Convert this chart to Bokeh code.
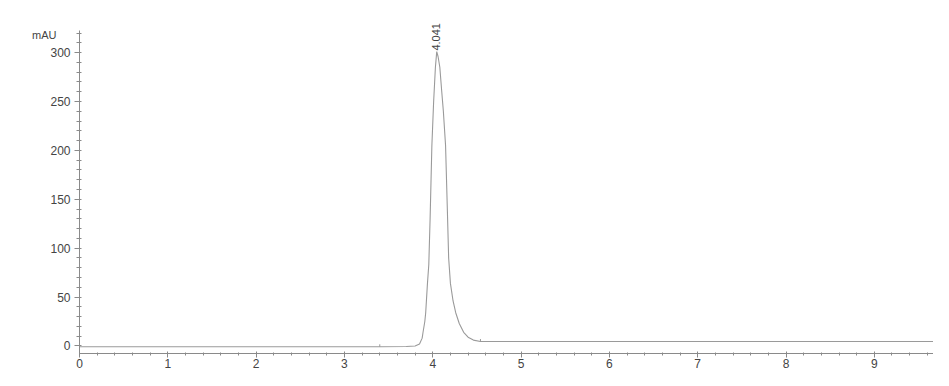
import math
from bokeh.plotting import figure
from bokeh.models import Range1d, SingleIntervalTicker, Label
from bokeh.embed import file_html
from bokeh.resources import INLINE

# ---- data ----
time_min = [0.0, 3.40, 3.70, 3.80, 3.85, 3.88, 3.89, 3.91, 3.92, 3.94, 3.955,
            3.97, 3.99, 4.01, 4.03, 4.045, 4.06, 4.08, 4.10, 4.12, 4.145,
            4.165, 4.18, 4.20, 4.23, 4.26, 4.30, 4.35, 4.40, 4.46, 4.54, 9.67]
absorb_mau = [-0.8, -0.8, -0.5, 0.0, 2, 8, 14, 25, 34, 64, 83,
              130, 205, 250, 285, 301, 296, 285, 262, 240, 205,
              140, 90, 64, 46, 34, 23, 14, 9, 6, 4.6, 4.6]
marker_times = [3.40, 4.54]
marker_levels = [-0.8, 4.6]
peak_rt = [4.041]
peak_height = [301]
peak_labels = ["4.041"]
y_unit = "mAU"

FONT = "Liberation Sans"
LINE = "#9a9a9a"
AX = "#8a8a8a"
TXT = "#444444"

Y_BOTTOM, Y_TOP, AXIS_TOP = -7.7, 332.8, 323

p = figure(width=933, height=370, output_backend="svg", toolbar_location=None,
           x_range=Range1d(0, 9.67), y_range=Range1d(Y_BOTTOM, Y_TOP),
           min_border_left=79, min_border_top=20, min_border_right=0,
           min_border_bottom=0)
p.outline_line_color = None
p.xgrid.grid_line_color = None
p.ygrid.grid_line_color = None
p.background_fill_color = "white"
p.border_fill_color = "white"

p.xaxis.ticker = SingleIntervalTicker(interval=1, num_minor_ticks=5)
p.yaxis.ticker = SingleIntervalTicker(interval=50, num_minor_ticks=5)
p.yaxis.bounds = (Y_BOTTOM, AXIS_TOP)
for ax in (p.xaxis, p.yaxis):
    ax.axis_line_color = AX
    ax.major_tick_line_color = AX
    ax.minor_tick_line_color = AX
    ax.major_label_text_font = FONT
    ax.major_label_text_font_size = "12px"
    ax.major_label_text_color = TXT
p.xaxis.major_tick_in = 2
p.xaxis.major_tick_out = 4
p.xaxis.minor_tick_in = 1
p.xaxis.minor_tick_out = 2
p.xaxis.major_label_standoff = 1
p.yaxis.major_tick_in = 0
p.yaxis.major_tick_out = 5
p.yaxis.minor_tick_in = 2
p.yaxis.minor_tick_out = 3
p.yaxis.major_label_standoff = 4

p.yaxis.axis_label = "\n\n" + y_unit
p.yaxis.axis_label_orientation = "horizontal"
p.yaxis.axis_label_align = "end"
p.yaxis.axis_label_standoff = -9
p.yaxis.axis_label_text_font = FONT
p.yaxis.axis_label_text_font_size = "11px"
p.yaxis.axis_label_text_font_style = "normal"
p.yaxis.axis_label_text_color = TXT

p.line(time_min, absorb_mau, line_color=LINE, line_width=1.1)

# integration markers
p.segment(x0=marker_times, y0=marker_levels, x1=marker_times,
          y1=[v + 2.5 for v in marker_levels], line_color=LINE, line_width=1)

for rt, h, lab in zip(peak_rt, peak_height, peak_labels):
    p.add_layout(Label(x=rt, y=h + 1, text=lab, angle=math.pi / 2,
                       text_align="left", text_baseline="middle",
                       text_font=FONT, text_font_size="11px", text_color=TXT))

open("out.html", "w").write(file_html(p, INLINE))
